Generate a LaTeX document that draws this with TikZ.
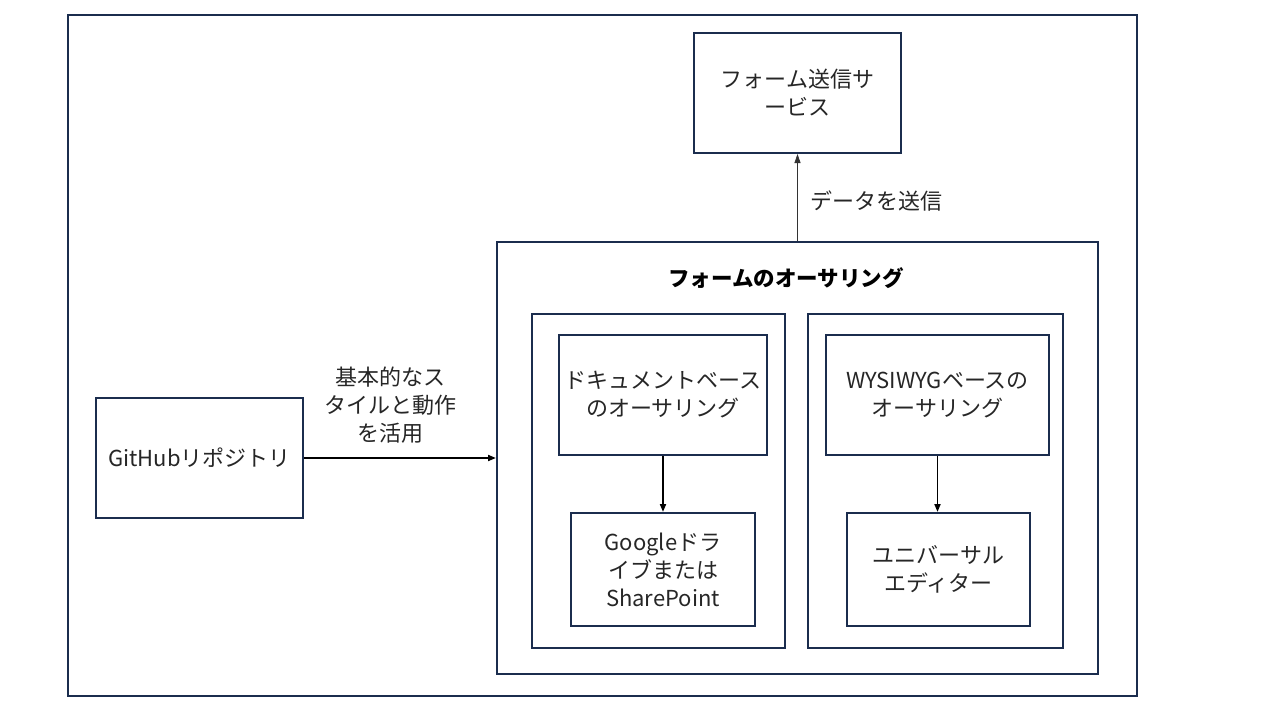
\documentclass[tikz,border=0pt]{standalone}
\usepackage{fontspec}
\setmainfont{Noto Sans CJK JP}
\usetikzlibrary{arrows.meta}
\definecolor{navy}{HTML}{1B2D4E}
\tikzset{
  box/.style={draw=navy, line width=2pt, rectangle, inner sep=0pt, align=center,
    font=\fontsize{22pt}{28pt}\selectfont, text=black!85},
  lbl/.style={align=center, font=\fontsize{22pt}{28pt}\selectfont, text=black!85, inner sep=0pt},
  arr/.style={-{Triangle[length=8pt,width=6pt]}, line width=1.8pt, black},
  thinarr/.style={-{Triangle[length=9pt,width=6pt]}, line width=0.8pt, black!80},
}
\begin{document}
\begin{tikzpicture}[x=1pt,y=-1pt]
\useasboundingbox (0,0) rectangle (1280,720);
\node[box, minimum width=1069pt, minimum height=681pt] (frame) at (602.5,355.5) {};
\node[box, minimum width=207pt, minimum height=120pt] (svc) at (797.5,93) {フォーム送信サ\\ービス};
\node[box, minimum width=601pt, minimum height=432pt] (auth) at (797.5,458) {};
\node[lbl, font=\fontsize{21.5pt}{24pt}\selectfont\bfseries, text=black] (title) at (786,278) {フォームのオーサリング};
\node[box, minimum width=253pt, minimum height=334pt] (leftc) at (658.5,481) {};
\node[box, minimum width=255pt, minimum height=334pt] (rightc) at (935.5,481) {};
\node[box, minimum width=208pt, minimum height=120pt] (doc) at (663,395) {ドキュメントベース\\のオーサリング};
\node[box, minimum width=184pt, minimum height=113pt] (goog) at (663,569.5) {Googleドラ\\イブまたは\\SharePoint};
\node[box, minimum width=223pt, minimum height=120pt] (wys) at (937.5,395) {WYSIWYGベースの\\オーサリング};
\node[box, minimum width=183pt, minimum height=113pt] (uni) at (938.5,569.5) {ユニバーサル\\エディター};
\node[box, minimum width=207pt, minimum height=120pt] (git) at (199.5,458) {GitHubリポジトリ};
\draw[arr] (git.east) -- (git.east -| auth.west) node[pos=0.45, above=14pt, lbl] (lab1) {基本的なス\\タイルと動作\\を活用};
\draw[thinarr] (auth.north -| svc.south) -- (svc.south);
\node[lbl, anchor=west] (lab2) at (810,201) {データを送信};
\draw[arr] (doc.south) -- (doc.south |- goog.north);
\draw[arr] (wys.south) -- (wys.south |- uni.north);
\end{tikzpicture}
\end{document}
